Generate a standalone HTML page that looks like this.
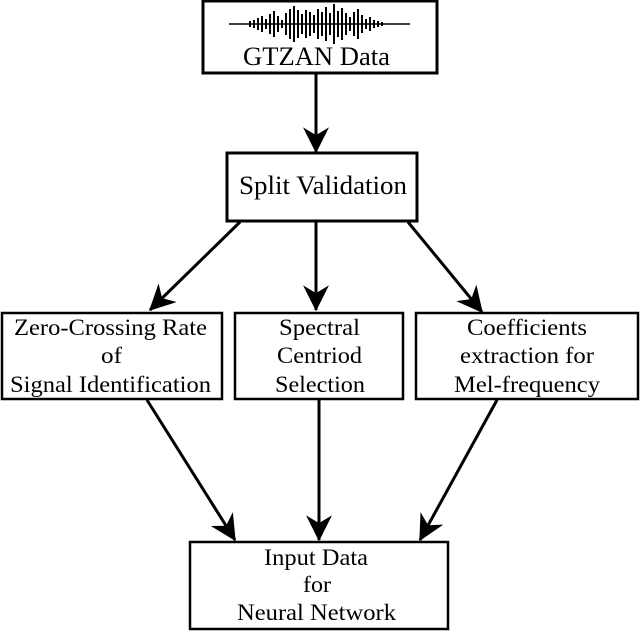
<!DOCTYPE html>
<html><head><style>
body{margin:0;background:#fff;}
svg{display:block;}
text{font-family:"Liberation Serif",serif;fill:#000;}
</style></head><body>
<svg width="640" height="631" viewBox="0 0 640 631" xmlns="http://www.w3.org/2000/svg">
<defs>
<marker id="b" viewBox="0 0 20 20" refX="19" refY="10" markerWidth="26" markerHeight="26" orient="auto" markerUnits="userSpaceOnUse">
<path d="M0,0 L20,10 L0,20 L6,10 Z" fill="#000"/>
</marker>
</defs>
<g fill="none" stroke="#000" stroke-width="3">
<rect x="203" y="1" width="234" height="72"/>
<rect x="227" y="153" width="190" height="68"/>
</g>
<g fill="none" stroke="#000" stroke-width="2.5">
<rect x="2" y="313" width="220" height="86"/>
<rect x="235" y="313" width="168" height="86"/>
<rect x="416" y="313" width="222" height="86"/>
<rect x="190" y="542" width="258" height="87"/>
</g>
<g stroke="#000" stroke-width="3" fill="none" marker-end="url(#b)">
<line x1="316" y1="73" x2="316" y2="152"/>
<line x1="240" y1="222" x2="150" y2="310"/>
<line x1="316" y1="222" x2="316" y2="310"/>
<line x1="408" y1="222" x2="482" y2="312"/>
<line x1="147" y1="400" x2="235" y2="540"/>
<line x1="319" y1="400" x2="319" y2="540"/>
<line x1="497" y1="400" x2="420" y2="540"/>
</g>
<g stroke="#000" stroke-width="2">
<line x1="229" y1="24" x2="410" y2="24" stroke-width="1.5"/>
<line x1="250" y1="21" x2="250" y2="27"/><line x1="254" y1="20" x2="254" y2="28"/><line x1="258" y1="18" x2="258" y2="30"/><line x1="262" y1="16" x2="262" y2="32"/><line x1="266" y1="19" x2="266" y2="29"/><line x1="270" y1="14" x2="270" y2="34"/><line x1="274" y1="11" x2="274" y2="37"/><line x1="278" y1="16" x2="278" y2="32"/><line x1="282" y1="20" x2="282" y2="28"/><line x1="286" y1="13" x2="286" y2="35"/><line x1="290" y1="9" x2="290" y2="39"/><line x1="294" y1="6" x2="294" y2="42"/><line x1="298" y1="10" x2="298" y2="38"/><line x1="302" y1="14" x2="302" y2="34"/><line x1="306" y1="10" x2="306" y2="38"/><line x1="310" y1="12" x2="310" y2="36"/><line x1="314" y1="15" x2="314" y2="33"/><line x1="318" y1="9" x2="318" y2="39"/><line x1="322" y1="12" x2="322" y2="36"/><line x1="326" y1="7" x2="326" y2="41"/><line x1="330" y1="13" x2="330" y2="35"/><line x1="334" y1="4" x2="334" y2="44"/><line x1="338" y1="11" x2="338" y2="37"/><line x1="342" y1="8" x2="342" y2="40"/><line x1="346" y1="13" x2="346" y2="35"/><line x1="350" y1="17" x2="350" y2="31"/><line x1="354" y1="12" x2="354" y2="36"/><line x1="358" y1="9" x2="358" y2="39"/><line x1="362" y1="15" x2="362" y2="33"/><line x1="366" y1="19" x2="366" y2="29"/><line x1="370" y1="17" x2="370" y2="31"/><line x1="374" y1="20" x2="374" y2="28"/><line x1="378" y1="21" x2="378" y2="27"/><line x1="382" y1="22" x2="382" y2="26"/>
</g>
<g font-size="23" lengthAdjust="spacingAndGlyphs">
<text x="243" y="65" font-size="26" textLength="147" lengthAdjust="spacingAndGlyphs">GTZAN Data</text>
<text x="239" y="194" font-size="26" textLength="168" lengthAdjust="spacingAndGlyphs">Split Validation</text>
<text x="14" y="335" textLength="193" lengthAdjust="spacingAndGlyphs">Zero-Crossing Rate</text>
<text x="101" y="363" textLength="21" lengthAdjust="spacingAndGlyphs">of</text>
<text x="10" y="392" textLength="201" lengthAdjust="spacingAndGlyphs">Signal Identification</text>
<text x="279" y="335" textLength="81" lengthAdjust="spacingAndGlyphs">Spectral</text>
<text x="277" y="363" textLength="85" lengthAdjust="spacingAndGlyphs">Centriod</text>
<text x="275" y="392" textLength="90" lengthAdjust="spacingAndGlyphs">Selection</text>
<text x="467" y="335" textLength="120" lengthAdjust="spacingAndGlyphs">Coefficients</text>
<text x="460" y="363" textLength="134" lengthAdjust="spacingAndGlyphs">extraction for</text>
<text x="454" y="392" textLength="146" lengthAdjust="spacingAndGlyphs">Mel-frequency</text>
<text x="264" y="565" textLength="104" lengthAdjust="spacingAndGlyphs">Input Data</text>
<text x="303" y="592" textLength="28" lengthAdjust="spacingAndGlyphs">for</text>
<text x="237" y="620" textLength="159" lengthAdjust="spacingAndGlyphs">Neural Network</text>
</g>
</svg>
</body></html>
